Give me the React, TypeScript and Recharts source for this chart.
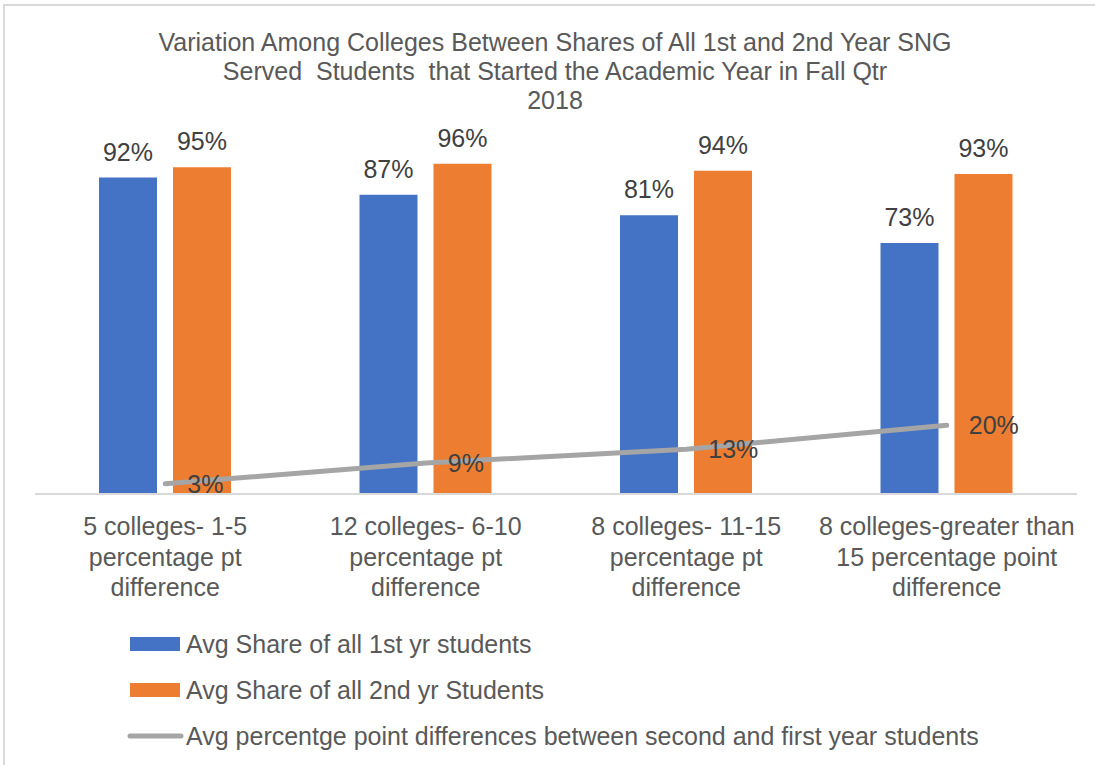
import React from "react"
import { Bar, ComposedChart, LabelList, Line, XAxis, YAxis } from "recharts"

const categories = [
  ["5 colleges- 1-5", "percentage pt", "difference"],
  ["12 colleges- 6-10", "percentage pt", "difference"],
  ["8 colleges- 11-15", "percentage pt", "difference"],
  ["8 colleges-greater than", "15 percentage point", "difference"],
]
const firstYear = [0.92, 0.87, 0.81, 0.73]
const secondYear = [0.95, 0.96, 0.94, 0.93]
const pointDiff = [0.03, 0.09, 0.13, 0.2]

const titleLines = [
  "Variation Among Colleges Between Shares of All 1st and 2nd Year SNG",
  "Served  Students  that Started the Academic Year in Fall Qtr",
  "2018",
]

const series = [
  { key: "first", name: "Avg Share of all 1st yr students", color: "#4472c4", kind: "bar" },
  { key: "second", name: "Avg Share of all 2nd yr Students", color: "#ed7d31", kind: "bar" },
  { key: "diff", name: "Avg percentge point differences between second and first year students", color: "#a5a5a5", kind: "line" },
]

const data = categories.map((c, i) => ({
  name: c.join("|"),
  first: firstYear[i],
  second: secondYear[i],
  diff: pointDiff[i],
}))

const FONT = "'Liberation Sans', Arial, sans-serif"
const pct = (v: any) => `${Math.round(Number(v) * 100)}%`

function CategoryTick(props: any) {
  const { x, y, payload } = props
  const lines = String(payload.value).split("|")
  return (
    <text x={x} y={y + 33} textAnchor="middle" fill="#595959" fontSize={25} fontFamily={FONT}>
      {lines.map((l, i) => (
        <tspan key={i} x={x} dy={i === 0 ? 0 : 30.5}>
          {l}
        </tspan>
      ))}
    </text>
  )
}

export default function App() {
  return (
    <div style={{ position: "absolute", left: 0, top: 0, width: 1095, height: 765, background: "#fff", overflow: "hidden" }}>
      <div
        style={{
          position: "absolute",
          left: 3,
          top: 4,
          width: 1200,
          height: 900,
          border: "2px solid #d9d9d9",
          boxSizing: "border-box",
        }}
      />
      <div
        style={{
          position: "absolute",
          left: 0,
          top: 28,
          width: 1110,
          textAlign: "center",
          fontFamily: FONT,
          fontSize: 25,
          lineHeight: "29px",
          color: "#595959",
        }}
      >
        {titleLines.map((t, i) => (
          <div key={i} style={{ whiteSpace: "pre" }}>{t}</div>
        ))}
      </div>
      <div style={{ position: "absolute", left: 0, top: 0 }}>
        <ComposedChart
          width={1095}
          height={765}
          data={data}
          margin={{ top: 150, right: 18, bottom: 161, left: 35 }}
          barSize={58}
          barGap={16}
        >
          <XAxis
            dataKey="name"
            axisLine={{ stroke: "#d9d9d9", strokeWidth: 2 }}
            tickLine={false}
            height={110}
            interval={0}
            tick={<CategoryTick />}
          />
          <YAxis hide domain={[0, 1]} />
          <Bar dataKey="first" fill={series[0].color} isAnimationActive={false}>
            <LabelList dataKey="first" position="top" offset={17} formatter={pct} fill="#404040" fontSize={25} fontFamily={FONT} />
          </Bar>
          <Bar dataKey="second" fill={series[1].color} isAnimationActive={false}>
            <LabelList dataKey="second" position="top" offset={17} formatter={pct} fill="#404040" fontSize={25} fontFamily={FONT} />
          </Bar>
          <Line
            dataKey="diff"
            stroke={series[2].color}
            strokeWidth={5}
            strokeLinecap="round"
            dot={false}
            activeDot={false}
            isAnimationActive={false}
          >
            <LabelList dataKey="diff" position="right" offset={22} formatter={pct} fill="#404040" fontSize={25} fontFamily={FONT} />
          </Line>
        </ComposedChart>
      </div>
      <div style={{ position: "absolute", left: 127, top: 621, fontFamily: FONT, fontSize: 25, color: "#595959" }}>
        {series.map((s) => (
          <div key={s.key} style={{ display: "flex", alignItems: "center", height: 46, whiteSpace: "nowrap" }}>
            <svg width={58} height={20} style={{ marginRight: 1 }}>
              {s.kind === "bar" ? (
                <rect x={3} y={3} width={50} height={14} fill={s.color} />
              ) : (
                <line x1={3} y1={10} x2={54} y2={10} stroke={s.color} strokeWidth={5} strokeLinecap="round" />
              )}
            </svg>
            <span>{s.name}</span>
          </div>
        ))}
      </div>
    </div>
  )
}
